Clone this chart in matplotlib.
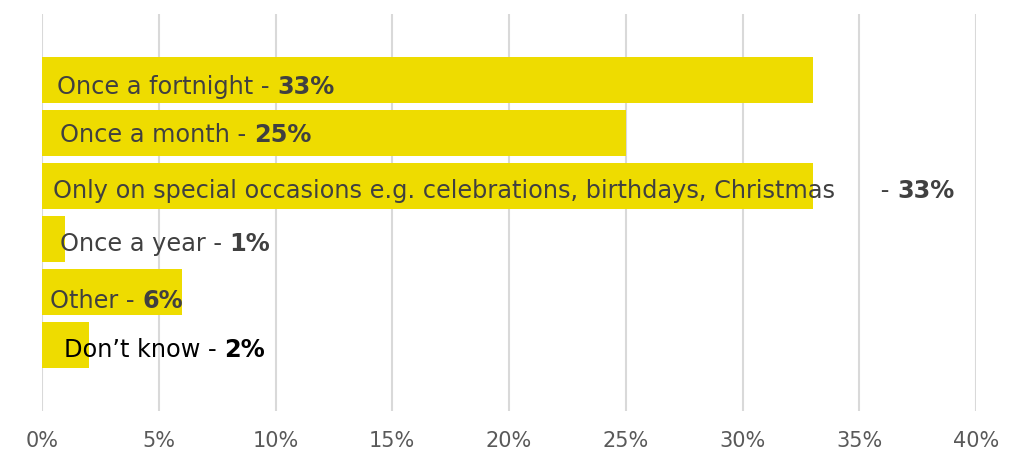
import matplotlib
matplotlib.use('Agg')

import numpy as np
from matplotlib import pyplot as plt

categories = ['Once a fortnight', 'Once a month',
              'Only on special occasions e.g. celebrations, birthdays, Christmas',
              'Once a year', 'Other', 'Don\u2019t know']
values = [33, 25, 33, 1, 6, 2]

# label placement tweaks (pixels) - the source chart is a bit uneven
label_dx = [15, 18, 11, 18, 8, 22]
label_dy = [-13, -8, -11, -11, -15, -11]
label_gap = ['', '', '     ', '', '', '']
label_col = ['#404040'] * 5 + ['#000000']

fig = plt.figure(figsize=(10.22, 4.6), dpi=100)
ax = fig.add_axes([0.0411, 0.1043, 0.9139, 0.8631])

Y = np.arange(len(values))
ax.barh(Y, values, height=0.87, color='#EEDC00', zorder=2)

ax.set_xlim(0, 40)
ax.set_ylim(len(values) - 1 + 1.24, -1.24)
ax.set_xticks(np.arange(0, 41, 5))
ax.set_xticklabels(['%d%%' % t for t in range(0, 41, 5)],
                   fontfamily='DejaVu Sans', fontsize=15, color='#595959')
ax.tick_params(axis='x', length=0, pad=14)
ax.set_yticks([])
for s in ax.spines.values():
    s.set_visible(False)
ax.grid(axis='x', color='#d9d9d9', linewidth=1.5, zorder=1)
ax.set_axisbelow(True)

for i, (c, v) in enumerate(zip(categories, values)):
    t = ax.annotate(c + label_gap[i] + ' - ', xy=(0, i), xycoords='data',
                    xytext=(label_dx[i], label_dy[i]), textcoords='offset pixels',
                    ha='left', va='baseline', fontsize=17.3,
                    color=label_col[i], zorder=3)
    ax.annotate('%d%%' % v, xy=(1, 0), xycoords=t, ha='left', va='bottom',
                fontsize=17.3, fontweight='bold', color=label_col[i], zorder=3)

plt.savefig('out.png', dpi=100)
